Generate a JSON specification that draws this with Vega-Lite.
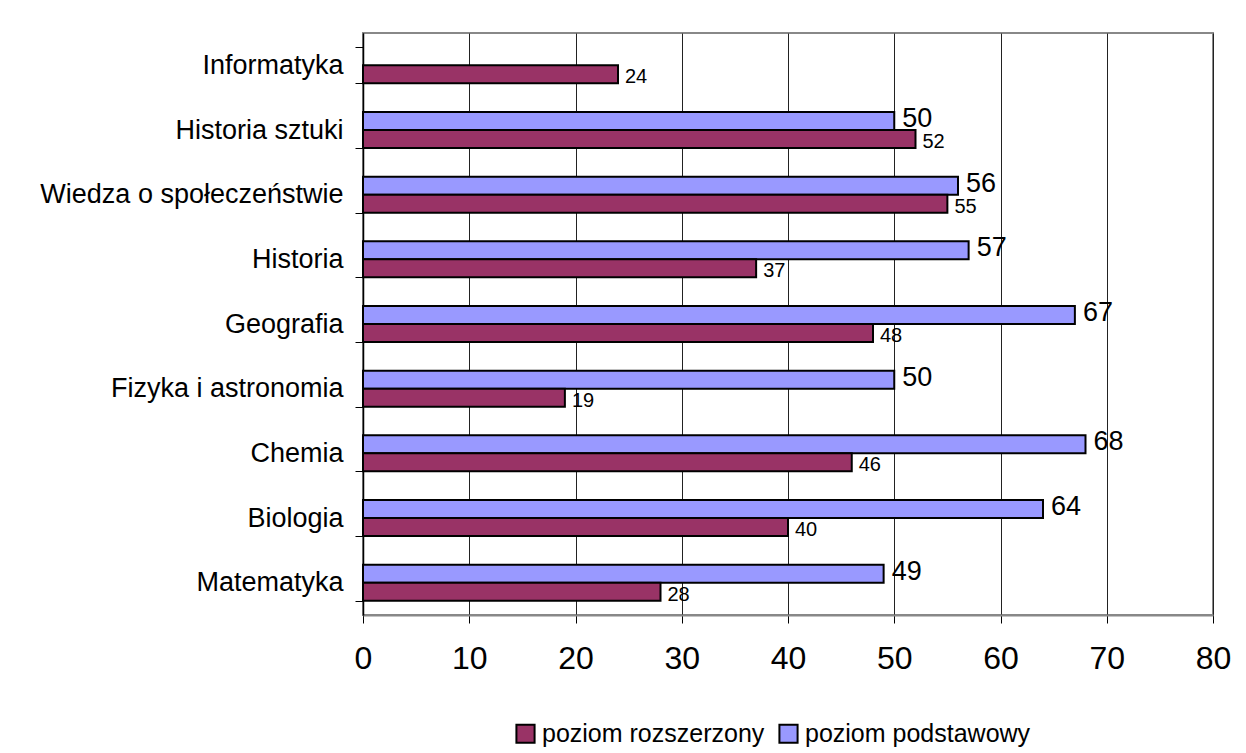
{
  "$schema": "https://vega.github.io/schema/vega-lite/v6.json",
  "autosize": "none",
  "width": 850,
  "height": 582,
  "padding": {"left": 363, "top": 33, "right": 33, "bottom": 138},
  "background": "white",
  "config": {
    "font": "Liberation Sans",
    "view": {"stroke": "#888888", "strokeWidth": 2}
  },
  "data": {
    "values": [
      {"przedmiot": "Informatyka", "poziom": "poziom rozszerzony", "wynik": 24},
      {"przedmiot": "Historia sztuki", "poziom": "poziom podstawowy", "wynik": 50},
      {"przedmiot": "Historia sztuki", "poziom": "poziom rozszerzony", "wynik": 52},
      {"przedmiot": "Wiedza o społeczeństwie", "poziom": "poziom podstawowy", "wynik": 56},
      {"przedmiot": "Wiedza o społeczeństwie", "poziom": "poziom rozszerzony", "wynik": 55},
      {"przedmiot": "Historia", "poziom": "poziom podstawowy", "wynik": 57},
      {"przedmiot": "Historia", "poziom": "poziom rozszerzony", "wynik": 37},
      {"przedmiot": "Geografia", "poziom": "poziom podstawowy", "wynik": 67},
      {"przedmiot": "Geografia", "poziom": "poziom rozszerzony", "wynik": 48},
      {"przedmiot": "Fizyka i astronomia", "poziom": "poziom podstawowy", "wynik": 50},
      {"przedmiot": "Fizyka i astronomia", "poziom": "poziom rozszerzony", "wynik": 19},
      {"przedmiot": "Chemia", "poziom": "poziom podstawowy", "wynik": 68},
      {"przedmiot": "Chemia", "poziom": "poziom rozszerzony", "wynik": 46},
      {"przedmiot": "Biologia", "poziom": "poziom podstawowy", "wynik": 64},
      {"przedmiot": "Biologia", "poziom": "poziom rozszerzony", "wynik": 40},
      {"przedmiot": "Matematyka", "poziom": "poziom podstawowy", "wynik": 49},
      {"przedmiot": "Matematyka", "poziom": "poziom rozszerzony", "wynik": 28}
    ]
  },
  "encoding": {
    "y": {
      "field": "przedmiot",
      "type": "nominal",
      "sort": ["Informatyka", "Historia sztuki", "Wiedza o społeczeństwie", "Historia", "Geografia", "Fizyka i astronomia", "Chemia", "Biologia", "Matematyka"],
      "scale": {"paddingInner": 0.444, "paddingOuter": 0.222},
      "axis": {
        "title": null,
        "labelFontSize": 27,
        "labelLimit": 400,
        "labelColor": "black",
        "labelPadding": 12,
        "tickBand": "extent",
        "tickSize": 8,
        "tickColor": "black",
        "domainColor": "black",
        "domainWidth": 1.5,
        "grid": false
      }
    },
    "yOffset": {
      "field": "poziom",
      "type": "nominal",
      "scale": {"domain": ["poziom podstawowy", "poziom rozszerzony"], "paddingInner": 0, "paddingOuter": 0}
    },
    "x": {
      "field": "wynik",
      "type": "quantitative",
      "scale": {"domain": [0, 80], "nice": false},
      "axis": {
        "title": null,
        "values": [0, 10, 20, 30, 40, 50, 60, 70, 80],
        "labelFontSize": 32,
        "labelFlush": false,
        "labelColor": "black",
        "labelPadding": 20,
        "tickSize": 8,
        "tickColor": "black",
        "domainColor": "#888888",
        "domainWidth": 2,
        "grid": true,
        "gridColor": "#222222",
        "gridWidth": 1,
        "gridOpacity": 1
      }
    }
  },
  "layer": [
    {
      "mark": {"type": "bar", "stroke": "black", "strokeWidth": 2},
      "encoding": {
        "color": {
          "field": "poziom",
          "type": "nominal",
          "scale": {"domain": ["poziom rozszerzony", "poziom podstawowy"], "range": ["#993366", "#9999FF"]},
          "legend": {
            "title": null,
            "orient": "none",
            "legendX": 150,
            "legendY": 688,
            "direction": "horizontal",
            "labelFontSize": 25,
            "labelLimit": 500,
            "labelColor": "black",
            "symbolType": "square",
            "symbolSize": 330,
            "symbolStrokeColor": "black",
            "symbolStrokeWidth": 2,
            "symbolOpacity": 1,
            "labelOffset": 4,
            "columnPadding": 10
          }
        }
      }
    },
    {
      "transform": [{"filter": "datum.poziom === 'poziom rozszerzony'"}],
      "mark": {"type": "text", "align": "left", "baseline": "middle", "dx": 7, "dy": 3, "fontSize": 20, "color": "black"},
      "encoding": {
        "text": {"field": "wynik", "type": "quantitative"}
      }
    },
    {
      "transform": [{"filter": "datum.poziom === 'poziom podstawowy'"}],
      "mark": {"type": "text", "align": "left", "baseline": "middle", "dx": 8, "dy": -2, "fontSize": 27, "color": "black"},
      "encoding": {
        "text": {"field": "wynik", "type": "quantitative"}
      }
    }
  ]
}
